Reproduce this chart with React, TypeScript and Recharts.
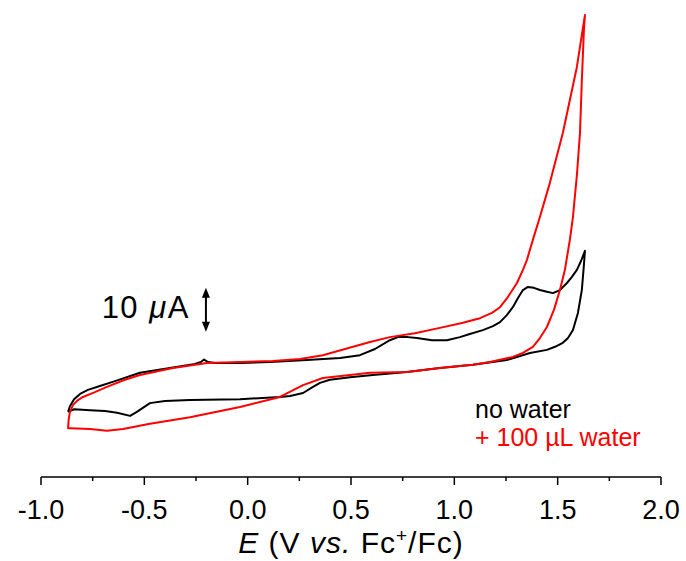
import React from "react";
import { LineChart, Line, XAxis, YAxis, ReferenceLine } from "recharts";

// potential (V vs. Fc+/Fc) and current (µA), in scan order
const noWaterE = [
  -0.869, -0.86, -0.84, -0.811, -0.773, -0.715, -0.642, -0.521, -0.376, -0.255, -0.226, -0.211, -0.192,
  -0.158, -0.037, 0.108, 0.287, 0.447, 0.543, 0.616, 0.688, 0.727, 0.776, 0.819, 0.892, 0.964, 1.027,
  1.075, 1.138, 1.187, 1.221, 1.254, 1.283, 1.308, 1.332, 1.356, 1.385, 1.414, 1.448, 1.477, 1.511,
  1.545, 1.569, 1.593, 1.613, 1.632,
  1.627, 1.617, 1.598, 1.574, 1.55, 1.525, 1.487, 1.448, 1.366, 1.254, 1.09, 0.93, 0.771, 0.606, 0.495,
  0.398, 0.35, 0.316, 0.268, 0.205, 0.156, -0.037, -0.279, -0.4, -0.473, -0.536, -0.569, -0.632, -0.69,
  -0.763, -0.84, -0.869,
];
const noWaterI = [
  -11.8, -10.5, -8.9, -7.7, -6.8, -5.9, -4.8, -2.9, -1.8, -0.9, -0.45, 0.1, -0.45,
  -0.7, -0.7, -0.45, 0, 0.45, 1.1, 2.5, 4.5, 5.2, 5.2, 5.0, 4.5, 4.5, 5.2,
  5.9, 6.8, 7.7, 8.6, 10.2, 12.0, 14.1, 15.9, 16.6, 16.4, 15.9, 15.5, 15.2, 15.9,
  17.5, 18.9, 20.5, 22.5, 24.8,
  21.6, 15.9, 10.7, 6.8, 5.0, 3.9, 3.0, 2.3, 1.6, 0, -1.1, -1.8, -2.7, -3.4, -3.9,
  -4.5, -5.2, -6.1, -7.5, -8.2, -8.4, -8.9, -9.1, -9.3, -9.8, -11.8, -12.7, -12.0, -11.6,
  -11.4, -11.2, -11.8,
];

const waterE = [
  -0.86, -0.845, -0.821, -0.797, -0.739, -0.681, -0.594, -0.521, -0.361, -0.197, -0.037, 0.122, 0.253,
  0.364, 0.471, 0.592, 0.688, 0.809, 0.93, 1.037, 1.124, 1.182, 1.221, 1.259, 1.303, 1.332, 1.351,
  1.38, 1.414, 1.462, 1.525, 1.559, 1.593, 1.613, 1.632,
  1.627, 1.617, 1.608, 1.593, 1.574, 1.559, 1.535, 1.511, 1.482, 1.448, 1.414, 1.38, 1.332, 1.283,
  1.172, 1.09, 0.93, 0.771, 0.592, 0.364, 0.268, 0.156, -0.037, -0.279, -0.473, -0.603, -0.681, -0.763,
  -0.86, -0.869, -0.866, -0.86,
];
const waterI = [
  -11.8, -10.2, -9.1, -8.4, -7.3, -6.1, -4.5, -3.4, -1.8, -0.7, -0.45, -0.23, 0.23,
  1.1, 2.5, 4.1, 5.2, 6.1, 7.3, 8.4, 9.5, 10.7, 12.0, 14.3, 17.5, 20.5, 22.7,
  27.3, 32.5, 40.2, 51.6, 59.1, 66.6, 72.7, 78.4,
  75.0, 63.6, 51.6, 42.0, 32.5, 27.3, 20.5, 15.9, 11.4, 7.5, 5.0, 3.0, 1.6, 0.7,
  -0.45, -1.1, -1.8, -2.7, -2.9, -4.1, -5.7, -8.4, -10.7, -13.0, -14.5, -15.7, -16.1, -15.7,
  -15.5, -15.5, -13.5, -11.8,
];

const xTicks = [-1, -0.75, -0.5, -0.25, 0, 0.25, 0.5, 0.75, 1, 1.25, 1.5, 1.75, 2];
const scaleBarE = -0.202;
const scaleBarI = [6.4, 16.4]; // 10 µA

const FONT = "Arial, 'Liberation Sans', sans-serif";

const toPoints = (e: number[], i: number[]) => e.map((v, k) => ({ e: v, i: i[k] }));
const noWater = toPoints(noWaterE, noWaterI);
const water = toPoints(waterE, waterI);

const AxisTick = (props: any) => {
  const { x, y, payload } = props;
  const v = payload.value as number;
  const major = Math.abs(v * 2 - Math.round(v * 2)) < 1e-6;
  return (
    <g>
      <line x1={x} x2={x} y1={y} y2={y + (major ? 8 : 4)} stroke="#000" strokeWidth={1.5} />
      {major && (
        <text x={x} y={y + 42} textAnchor="middle" fontSize={27} fontFamily={FONT} fill="#000">
          {v.toFixed(1)}
        </text>
      )}
    </g>
  );
};

const ScaleBar = (props: any) => {
  const { x1, y1, y2 } = props;
  const top = Math.min(y1, y2);
  const bot = Math.max(y1, y2);
  return (
    <g>
      <line x1={x1} x2={x1} y1={top + 6} y2={bot - 6} stroke="#000" strokeWidth={2} />
      <path d={`M${x1},${top} l-4,10 l8,0 z`} fill="#000" />
      <path d={`M${x1},${bot} l-4,-10 l8,0 z`} fill="#000" />
      <text
        x={x1 - 16}
        y={(top + bot) / 2 + 8}
        textAnchor="end"
        fontSize={31}
        letterSpacing={1.5}
        fontFamily={FONT}
        fill="#000"
      >
        {"10 "}
        <tspan fontStyle="italic">μ</tspan>
        {"A"}
      </text>
    </g>
  );
};

const AxisTitle = (props: any) => {
  const vb = props.viewBox;
  return (
    <text
      x={vb.x + vb.width / 2}
      y={vb.y + 76}
      textAnchor="middle"
      fontSize={30}
      letterSpacing={1}
      fontFamily={FONT}
      fill="#000"
    >
      <tspan fontStyle="italic">E</tspan>
      {" (V "}
      <tspan fontStyle="italic">vs.</tspan>
      {" Fc"}
      <tspan dy={-11} fontSize={19}>+</tspan>
      <tspan dy={11}>/Fc)</tspan>
    </text>
  );
};

export default function App() {
  return (
    <div style={{ position: "absolute", left: 0, top: 0, width: 686, height: 561, fontFamily: FONT }}>
      <LineChart width={686} height={561} margin={{ top: 8, right: 25, left: 41, bottom: 0 }}>
        <XAxis
          type="number"
          dataKey="e"
          domain={[-1, 2]}
          ticks={xTicks}
          interval={0}
          allowDataOverflow
          tick={<AxisTick />}
          tickLine={false}
          tickSize={0}
          tickMargin={0}
          axisLine={{ stroke: "#000", strokeWidth: 1.5 }}
          height={84}
          label={{ content: AxisTitle }}
        />
        <YAxis type="number" domain={[-26.59, 80]} hide width={0} allowDataOverflow />
        <Line
          data={noWater}
          dataKey="i"
          type="linear"
          stroke="#000"
          strokeWidth={2}
          strokeLinejoin="round"
          dot={false}
          activeDot={false}
          isAnimationActive={false}
        />
        <Line
          data={water}
          dataKey="i"
          type="linear"
          stroke="#ff0000"
          strokeWidth={2}
          strokeLinejoin="round"
          dot={false}
          activeDot={false}
          isAnimationActive={false}
        />
        <ReferenceLine
          segment={[
            { x: scaleBarE, y: scaleBarI[0] },
            { x: scaleBarE, y: scaleBarI[1] },
          ]}
          shape={ScaleBar}
          ifOverflow="visible"
        />
      </LineChart>
      <div style={{ position: "absolute", left: 475, top: 395, fontSize: 25, lineHeight: "28px" }}>
        <div style={{ color: "#000" }}>no water</div>
        <div style={{ color: "#ff0000" }}>+ 100 µL water</div>
      </div>
    </div>
  );
}
